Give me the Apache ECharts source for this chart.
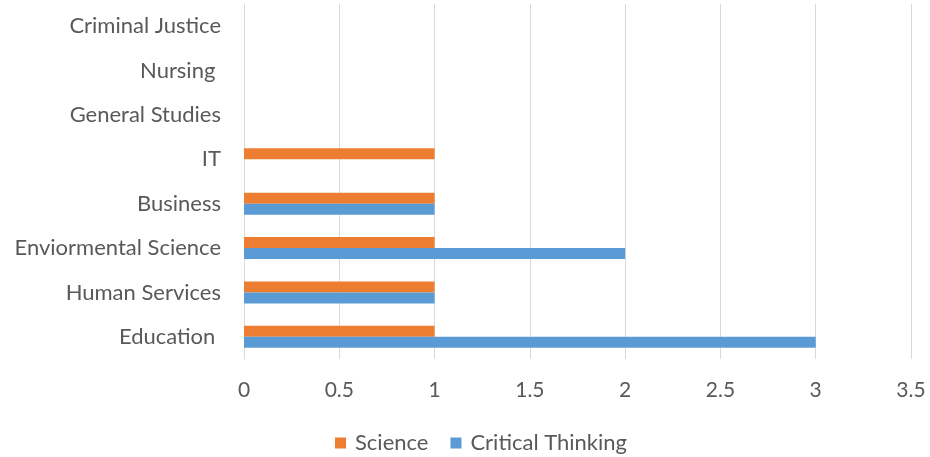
<!DOCTYPE html>
<html>
<head>
<meta charset="utf-8">
<script src="https://cdn.jsdelivr.net/npm/echarts@6/dist/echarts.min.js"></script>
<style>
  html, body { margin: 0; padding: 0; background: #fff; }
  #chart { width: 930px; height: 457px; }
</style>
</head>
<body>
<div id="chart"></div>
<script>
// categories bottom -> top
const categories = ['Education ', 'Human Services', 'Enviormental Science', 'Business', 'IT', 'General Studies', 'Nursing ', 'Criminal Justice'];
const science = [1, 1, 1, 1, 1, 0, 0, 0];
const criticalThinking = [3, 1, 2, 1, 0, 0, 0, 0];

const font = 'Lato, "Open Sans", sans-serif';
const chart = echarts.init(document.getElementById('chart'));

chart.setOption({
  animation: false,
  textStyle: { fontFamily: font },
  grid: { left: 244, right: 19, top: 4, bottom: 98 },
  legend: {
    data: ['Science', 'Critical Thinking'],
    left: 330,
    top: 427,
    itemWidth: 11,
    itemHeight: 11,
    itemGap: 22,
    icon: 'rect',
    textStyle: { color: '#595959', fontSize: 22, fontFamily: font, padding: [0, 0, 0, 4] }
  },
  xAxis: {
    type: 'value',
    min: 0,
    max: 3.5,
    interval: 0.5,
    axisLine: { show: false },
    axisTick: { show: false },
    splitLine: { lineStyle: { color: '#D9D9D9', width: 1 } },
    axisLabel: { color: '#595959', fontSize: 21, margin: 21, fontFamily: font }
  },
  yAxis: {
    type: 'category',
    data: categories,
    axisLine: { lineStyle: { color: '#D9D9D9' } },
    axisTick: { show: false },
    axisLabel: { color: '#595959', fontSize: 22, margin: 23, fontFamily: font }
  },
  series: [
    {
      name: 'Science',
      type: 'bar',
      data: science,
      barWidth: 11,
      barGap: '0%',
      itemStyle: { color: '#ED7D31' }
    },
    {
      name: 'Critical Thinking',
      type: 'bar',
      data: criticalThinking,
      barWidth: 11,
      barGap: '0%',
      itemStyle: { color: '#5B9BD5' }
    }
  ]
});
</script>
</body>
</html>
